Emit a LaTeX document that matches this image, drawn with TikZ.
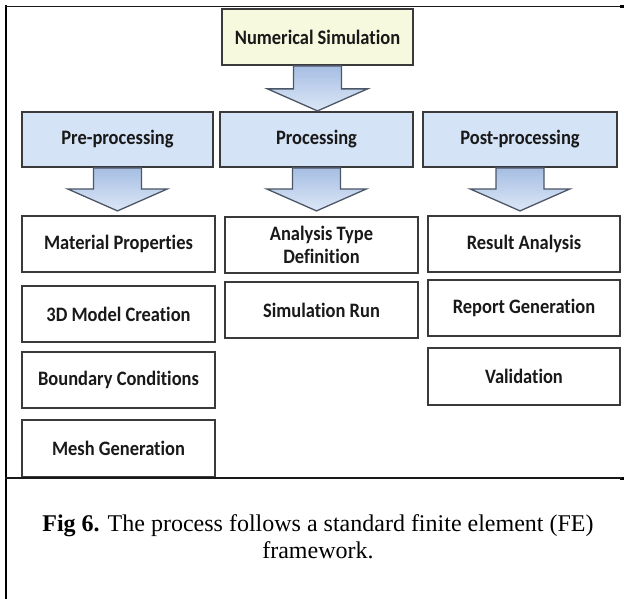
\documentclass[tikz,border=0pt]{standalone}
\usepackage{fontspec}
\setmainfont{Liberation Serif}
\newfontfamily\boxfont[Ligatures=NoCommon, FakeStretch=0.9]{Carlito}
\usetikzlibrary{calc,shadows}

\definecolor{boxline}{HTML}{3A3A3A}
\definecolor{nsfill}{HTML}{F6F9DE}
\definecolor{phasefill}{HTML}{D5E3F7}
\definecolor{arrline}{HTML}{4C5666}
\definecolor{arrtop}{HTML}{A6BEE3}
\definecolor{arrbot}{HTML}{DCE7F7}

\tikzset{
  basebox/.style={rectangle, inner sep=2pt, align=center,
    font=\boxfont\bfseries\fontsize{20.5}{22.5}\selectfont, text=black!90},
  topbox/.style={basebox, draw=boxline, line width=1.8pt, fill=nsfill,
    minimum width=191pt, minimum height=56pt},
  phasebox/.style={basebox, draw=boxline, line width=1.8pt, fill=phasefill,
    minimum height=55pt},
  taskbox/.style={basebox, draw=boxline, line width=1.4pt, fill=white,
    minimum width=193pt, minimum height=56pt,
    drop shadow={opacity=0.18, shadow xshift=1.2pt, shadow yshift=-1.2pt}},
  blockarr/.style={draw=arrline, line width=1.3pt, line join=miter,
    top color=arrtop, bottom color=arrbot},
  frameline/.style={draw=black!90, line width=1.3pt}
}

% broad down arrow: shaft starts at #1, point ends at #2
\newcommand{\blockarrow}[2]{%
  \path[blockarr] let \p1=(#1), \p2=(#2) in
    (\x1-24pt,\y1) -- (\x1+24pt,\y1) -- (\x1+24pt,\y2+22pt)
    -- (\x1+50pt,\y2+22pt) -- (\x1,\y2) -- (\x1-50pt,\y2+22pt)
    -- (\x1-24pt,\y2+22pt) -- cycle;}

\begin{document}
\begin{tikzpicture}[x=1pt,y=-1pt]
\useasboundingbox (0,0) rectangle (624,599);

% outer frame and caption separator
\draw[line width=2.4pt, black] (6,5.5) -- (6,599);
\draw[frameline] (5,6.5) -- (622,6.5);
\fill[black] (620,5) rectangle (623.5,8.5);
\fill[black] (620,476.5) rectangle (623.5,480);

% top level
\node[topbox] (ns) at (317.5,37) {Numerical Simulation};

% phases
\node[phasebox, minimum width=191pt] (pre)  at (117.5,139.5) {Pre-processing};
\node[phasebox, minimum width=193pt] (proc) at (316.5,139.5) {Processing};
\node[phasebox, minimum width=194pt] (post) at (520,139.5)   {Post-processing};

% pre-processing tasks
\node[taskbox] (mat)   at (118.5,244)   {Material Properties};
\node[taskbox] (model) at (118.5,314)   {3D Model Creation};
\node[taskbox] (bc)    at (118.5,380)   {Boundary Conditions};
\node[taskbox, minimum height=57pt] (mesh) at (118.5,448.5) {Mesh Generation};

% processing tasks
\node[taskbox] (atd) at (321.5,245) {Analysis Type\\Definition};
\node[taskbox] (sim) at (321.5,310) {Simulation Run};

% post-processing tasks
\node[taskbox, minimum width=192pt] (res) at (524,244) {Result Analysis};
\node[taskbox, minimum width=192pt] (rep) at (524,308) {Report Generation};
\node[taskbox, minimum width=192pt, minimum height=57pt] (val) at (524,376.5) {Validation};

% separator drawn over the last box edge
\draw[frameline] (5,478) -- (622,478);

% block arrows
\blockarrow{ns.south}{$(ns.south)+(0,45)$}
\blockarrow{pre.south}{$(pre.south)+(0,43)$}
\blockarrow{proc.south}{$(proc.south)+(0,43)$}
\blockarrow{post.south}{$(post.south)+(0,43)$}

% caption
\node[align=center, inner sep=0pt,
      font=\fontsize{24}{27}\selectfont] (cap) at (318,536.5)
  {\textbf{Fig 6.} The process follows a standard finite element (FE)\\framework.};
\end{tikzpicture}
\end{document}
